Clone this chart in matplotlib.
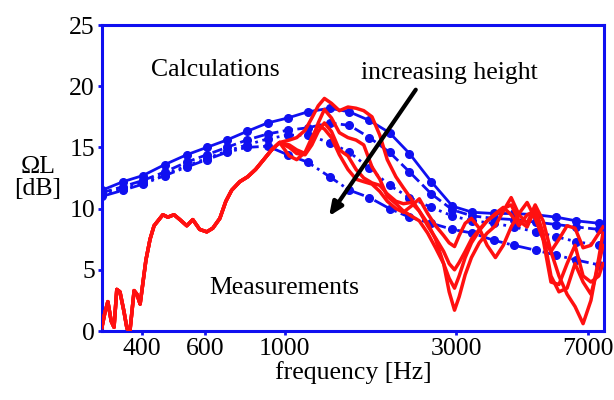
import numpy as np
import matplotlib
matplotlib.use("Agg")
import matplotlib.pyplot as plt

plt.rcParams['font.family'] = ['Liberation Serif', 'DejaVu Serif']

# calculations (blue), four heights
calc_freq = [310, 355, 403, 464, 534, 607, 690, 784, 897, 1019, 1158, 1334, 1515,
             1722, 1958, 2225, 2560, 2930, 3330, 3830, 4350, 5000, 5700, 6480, 7500]
calc_a = [11.5, 12.2, 12.7, 13.6, 14.4, 15.0, 15.6, 16.3, 17.0, 17.4, 17.9, 18.2, 17.9,
          17.2, 16.2, 14.5, 12.2, 10.2, 9.7, 9.6, 9.6, 9.5, 9.3, 9.0, 8.8]
calc_b = [11.3, 11.8, 12.3, 13.0, 13.8, 14.4, 15.0, 15.6, 16.1, 16.4, 16.6, 17.0, 16.8,
          15.8, 14.6, 13.0, 11.2, 9.9, 9.4, 9.2, 9.1, 8.9, 8.7, 8.5, 8.3]
calc_c = [11.2, 11.6, 12.1, 12.8, 13.5, 14.1, 14.7, 15.2, 15.7, 16.0, 16.0, 15.4, 14.6,
          13.3, 11.9, 10.9, 10.1, 9.4, 9.0, 8.8, 8.5, 8.1, 7.7, 7.3, 7.0]
calc_d = [11.0, 11.5, 12.0, 12.7, 13.4, 14.0, 14.6, 15.0, 15.1, 14.4, 13.8, 12.6, 11.5,
          10.9, 10.0, 9.3, 8.8, 8.3, 8.0, 7.4, 7.0, 6.6, 6.2, 5.8, 5.4]

# measurements (red): common low-frequency part
meas_low_freq = [310, 316, 322, 329, 335, 341, 348, 357, 364, 371, 381, 388, 396, 403,
                 411, 422, 433, 444, 458, 473, 492, 511, 534, 555, 580, 607, 631, 660,
                 686, 712, 750, 789, 830, 874, 920, 968]
meas_low = [0.3, 1.5, 2.4, 0.8, 0.3, 3.4, 3.2, 1.6, 0.2, 0.0, 3.3, 3.0, 2.2, 3.9,
            5.8, 7.5, 8.6, 9.0, 9.5, 9.3, 9.5, 9.1, 8.6, 9.1, 8.3, 8.1, 8.4, 9.2,
            10.6, 11.5, 12.2, 12.6, 13.2, 14.0, 14.8, 15.4]

# measurements: branches above 1 kHz
meas_high_freq = [1030, 1080, 1140, 1190, 1240, 1290, 1350, 1420, 1500, 1580, 1660, 1750,
                  1840, 1930, 2040, 2140, 2250, 2370, 2500, 2630, 2770, 2870, 2970, 3060,
                  3180, 3310, 3480, 3660, 3860, 4060, 4270, 4490, 4730, 4980, 5240, 5510,
                  5800, 6110, 6430, 6770, 7120, 7490, 7690]
meas_1 = [15.6, 15.8, 16.4, 17.4, 18.4, 19.0, 18.6, 18.0, 18.3, 18.2, 18.0, 17.5,
          16.0, 14.0, 12.6, 11.7, 10.8, 9.8, 8.8, 7.5, 5.5, 3.2, 1.7, 2.8,
          4.6, 6.0, 7.2, 8.0, 8.6, 9.8, 10.9, 9.5, 8.8, 10.3, 9.0, 6.5,
          4.5, 3.0, 2.0, 0.6, 2.5, 6.0, 8.0]
meas_2 = [15.2, 14.8, 14.5, 15.5, 17.0, 18.1, 17.4, 16.2, 15.8, 15.6, 15.2, 13.4,
          12.4, 11.0, 10.4, 9.8, 9.4, 9.0, 8.0, 6.8, 5.5, 4.3, 3.5, 4.5,
          6.0, 7.2, 8.2, 9.0, 9.5, 10.0, 10.3, 9.0, 8.5, 10.0, 8.0, 4.5,
          3.2, 3.5, 5.5, 4.0, 3.0, 5.5, 7.0]
meas_3 = [15.0, 14.5, 14.4, 15.2, 16.3, 17.0, 16.3, 14.8, 14.3, 13.2, 12.5, 12.1,
          11.9, 11.2, 10.6, 10.4, 10.5, 9.8, 8.6, 7.6, 6.5, 5.5, 5.0, 5.6,
          6.5, 7.5, 8.3, 9.0, 9.6, 10.1, 9.5, 8.6, 9.5, 9.8, 7.5, 4.0,
          3.8, 5.5, 7.0, 4.5, 4.0, 4.5, 5.5]
meas_4 = [14.3, 14.0, 14.6, 15.8, 16.8, 16.5, 15.8, 14.4, 13.2, 12.4, 12.2, 12.0,
          11.4, 10.6, 10.0, 9.7, 10.2, 10.8, 9.6, 8.6, 7.8, 7.2, 6.9, 7.8,
          8.8, 9.2, 8.4, 7.0, 6.0, 7.0, 8.5, 9.6, 10.5, 9.2, 7.5, 6.5,
          7.5, 8.6, 8.4, 6.8, 7.0, 8.0, 8.5]

xticks = [400, 600, 1000, 3000, 7000]
yticks = [0, 5, 10, 15, 20, 25]

BLUE = '#1010f0'
RED = '#ff1010'
FS = 18.5

fig = plt.figure(figsize=(6.14, 4.0), dpi=100)
ax = fig.add_axes([0.166, 0.1725, 0.818, 0.765])

# 计算曲线
for vals, ls in zip([calc_a, calc_b, calc_c, calc_d], ['-', '--', ':', '-.']):
    ax.plot(calc_freq, vals, color=BLUE, linestyle=ls, linewidth=2.0,
            marker='o', markersize=5.5, zorder=2)

# 测量曲线
for high in [meas_1, meas_2, meas_3, meas_4]:
    ax.plot(meas_low_freq + meas_high_freq, meas_low + high, color=RED,
            linewidth=2.5, zorder=3)

ax.set_xscale('log')
ax.set_xlim(310, 7750)
ax.set_ylim(0, 25)
ax.set_xticks(xticks)
ax.set_xticklabels([str(t) for t in xticks])
ax.xaxis.set_minor_locator(matplotlib.ticker.NullLocator())
ax.set_yticks(yticks)

for s in ax.spines.values():
    s.set_color(BLUE)
    s.set_linewidth(2.2)
ax.tick_params(colors=BLUE, labelcolor='black', labelsize=FS, length=3, width=2, pad=2)

ax.set_xlabel('frequency [Hz]', fontsize=FS, labelpad=1)
ax.set_ylabel('ΩL\n[dB]', fontsize=FS, rotation=0, linespacing=1.0, va='center')
ax.yaxis.set_label_coords(-0.128, 0.5)

ax.text(640, 21.3, 'Calculations', fontsize=FS, ha='center', va='center')
ax.text(2870, 21.1, 'increasing height', fontsize=FS, ha='center', va='center')
ax.text(1000, 3.5, 'Measurements', fontsize=FS, ha='center', va='center')
ax.annotate('', xy=(1316, 9.2), xytext=(2340, 19.9),
            arrowprops=dict(arrowstyle='-|>,head_length=0.8,head_width=0.35',
                            color='black', lw=3), zorder=5)

fig.savefig('out.png', dpi=100, facecolor='white')
